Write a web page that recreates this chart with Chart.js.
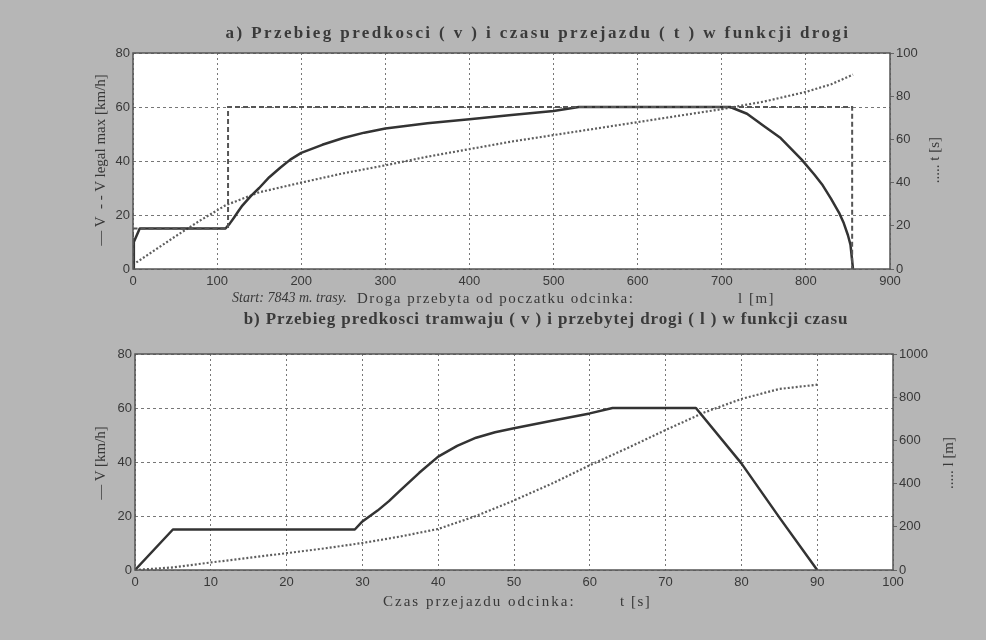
<!DOCTYPE html>
<html lang="pl">
<head>
<meta charset="utf-8">
<script src="https://cdn.jsdelivr.net/npm/chart.js@4.4.1/dist/chart.umd.min.js"></script>
<style>
  body { margin: 0; width: 986px; height: 640px; overflow: hidden; position: relative;
         background: #b6b6b6; font-family: "Liberation Serif", serif; color: #383838; }
  canvas { position: absolute; left: 0; }
  #wykresA { top: 0; }
  #wykresB { top: 300px; }
  .txt { position: absolute; white-space: nowrap; transform: translate(-50%, -50%); }
  .lewo { position: absolute; white-space: nowrap; transform: translateY(-50%); }
  .rot { transform: translate(-50%, -50%) rotate(-90deg); }
  .tytul { font-size: 17px; font-weight: bold; color: #3a3a3a; }
  .opis { font-size: 15px; }
</style>
</head>
<body>
<canvas id="wykresA" width="986" height="300"></canvas>
<canvas id="wykresB" width="986" height="340"></canvas>

<div class="txt tytul" style="left:538px; top:33px; letter-spacing:2.4px;">a) Przebieg predkosci ( v ) i czasu przejazdu ( t ) w funkcji drogi</div>
<div class="lewo opis" style="left:232px; top:298px; font-size:14px;"><i>Start: 7843 m. trasy.</i></div>
<div class="lewo opis" style="left:357px; top:298px; letter-spacing:1.5px;">Droga przebyta od poczatku odcinka:</div>
<div class="lewo opis" style="left:738px; top:298px; letter-spacing:1.5px;">l [m]</div>
<div class="txt rot opis" style="left:100px; top:160px;">— V&nbsp; - - V legal max [km/h]</div>
<div class="txt rot opis" style="left:934px; top:160px;">..... t [s]</div>

<div class="txt tytul" style="left:546px; top:319px; letter-spacing:0.9px;">b) Przebieg predkosci tramwaju ( v ) i przebytej drogi ( l ) w funkcji czasu</div>
<div class="lewo opis" style="left:383px; top:601px; letter-spacing:2px;">Czas przejazdu odcinka:</div>
<div class="lewo opis" style="left:620px; top:601px; letter-spacing:1.5px;">t [s]</div>
<div class="txt rot opis" style="left:100px; top:463px;">— V [km/h]</div>
<div class="txt rot opis" style="left:948px; top:463px;">..... l [m]</div>

<script>
// --- a) predkosc i czas w funkcji drogi ---
const drogaV = [0, 1, 8, 110, 115, 120, 125, 130, 140, 150, 162, 175, 187, 200, 225, 250, 275, 300, 350, 400, 450, 500, 530,
                600, 650, 710, 730, 750, 770, 795, 810, 820, 830, 840, 845, 850, 853, 856];
const predkoscV = [0, 10, 15, 15, 16.8, 19, 21.3, 23.5, 27, 30, 34, 37.5, 40.5, 43, 46, 48.5, 50.5, 52, 54, 55.5, 57, 58.5, 60,
                   60, 60, 60, 57.5, 53, 48.5, 40.5, 35, 31, 26, 20.5, 17, 12.5, 9, 0];
const drogaVmax = [0, 0, 113, 113, 855, 855];
const predkoscVmax = [0, 15, 15, 60, 60, 0];
const drogaT = [0, 25, 50, 80, 110, 150, 200, 250, 300, 350, 400, 450, 500, 550, 600, 650, 700, 750, 800, 830, 856];
const czasT = [2, 8.5, 15, 22.5, 29.5, 35.5, 40, 44.3, 48, 52, 55.5, 59, 62, 65, 68, 71, 74, 77.5, 82, 85.5, 90];

// --- b) predkosc i droga w funkcji czasu ---
const czasV = [0, 5, 29, 30, 31, 32, 33.5, 35, 37.5, 40, 42.5, 45, 47.5, 50, 55, 60, 63, 74, 80, 85, 90];
const predkoscVt = [0, 15, 15, 18, 20, 22, 25.5, 29.5, 36, 42, 46, 49, 51, 52.5, 55.3, 58, 60, 60, 39.5, 19.5, 0];
const czasL = [0, 5, 10, 15, 20, 25, 30, 35, 40, 45, 50, 55, 60, 65, 70, 75, 80, 85, 90];
const drogaL = [0, 12, 35, 56, 78, 100, 125, 155, 190, 250, 322, 400, 485, 565, 648, 728, 792, 838, 858];

const KOLOR_TEKSTU = '#383838';
const FONT_TICK = { family: '"Liberation Sans", sans-serif', size: 13 };

function punkty(xs, ys) {
    return xs.map((x, i) => ({ x, y: ys[i] }));
}

// biale pole wykresu i ramka jak w MATLABie
const ramka = {
    id: 'ramka',
    beforeDraw(chart) {
        const a = chart.chartArea;
        const ctx = chart.ctx;
        ctx.save();
        ctx.fillStyle = '#ffffff';
        ctx.fillRect(a.left, a.top, a.right - a.left, a.bottom - a.top);
        ctx.restore();
    },
    afterDraw(chart) {
        const a = chart.chartArea;
        const ctx = chart.ctx;
        ctx.save();
        ctx.strokeStyle = '#555';
        ctx.lineWidth = 1.5;
        ctx.strokeRect(a.left, a.top, a.right - a.left, a.bottom - a.top);
        ctx.restore();
    }
};

function linia(data, styl, os) {
    const base = { data, showLine: true, pointRadius: 0, tension: 0, fill: false, yAxisID: os };
    if (styl === 'ciagla') return { ...base, borderColor: '#333', borderWidth: 2.5, borderJoinStyle: 'round' };
    if (styl === 'kreski') return { ...base, borderColor: '#555', borderWidth: 2, borderDash: [5, 3] };
    return { ...base, borderColor: '#5e5e5e', borderWidth: 2.2, borderDash: [2, 2] };
}

function makeChart(id, cfg) {
    const ctx = document.getElementById(id).getContext('2d');
    return new Chart(ctx, {
        type: 'scatter',
        data: { datasets: cfg.datasets },
        options: {
            responsive: false,
            animation: false,
            layout: { padding: { top: cfg.top, left: 0, right: 0, bottom: 0 } },
            scales: {
                x: {
                    type: 'linear', min: 0, max: cfg.xMax,
                    afterFit: s => { s.height = cfg.xHeight; },
                    ticks: { stepSize: cfg.xStep, color: KOLOR_TEKSTU, font: FONT_TICK, padding: 5, maxRotation: 0, autoSkip: false },
                    grid: { color: '#777', drawTicks: false },
                    border: { display: false, dash: [2, 3] }
                },
                y: {
                    type: 'linear', position: 'left', min: 0, max: 80,
                    afterFit: s => { s.width = cfg.yWidth; },
                    ticks: { stepSize: 20, color: KOLOR_TEKSTU, font: FONT_TICK, padding: 3 },
                    grid: { color: '#777', drawTicks: false },
                    border: { display: false, dash: [3, 3] }
                },
                y2: {
                    type: 'linear', position: 'right', min: 0, max: cfg.y2Max,
                    afterFit: s => { s.width = cfg.y2Width; },
                    ticks: { stepSize: cfg.y2Step, color: KOLOR_TEKSTU, font: FONT_TICK, padding: 2, callback: v => String(v) },
                    grid: { drawOnChartArea: false, color: '#666', tickLength: 4 },
                    border: { display: false }
                }
            },
            plugins: {
                legend: { display: false },
                tooltip: { enabled: false }
            }
        },
        plugins: [ramka]
    });
}

makeChart('wykresA', {
    top: 53, xMax: 900, xStep: 100, xHeight: 31, yWidth: 133, y2Width: 96, y2Max: 100, y2Step: 20,
    datasets: [
        linia(punkty(drogaVmax, predkoscVmax), 'kreski', 'y'),
        linia(punkty(drogaV, predkoscV), 'ciagla', 'y'),
        linia(punkty(drogaT, czasT), 'kropki', 'y2')
    ]
});

makeChart('wykresB', {
    top: 54, xMax: 100, xStep: 10, xHeight: 70, yWidth: 135, y2Width: 93, y2Max: 1000, y2Step: 200,
    datasets: [
        linia(punkty(czasV, predkoscVt), 'ciagla', 'y'),
        linia(punkty(czasL, drogaL), 'kropki', 'y2')
    ]
});
</script>
</body>
</html>
